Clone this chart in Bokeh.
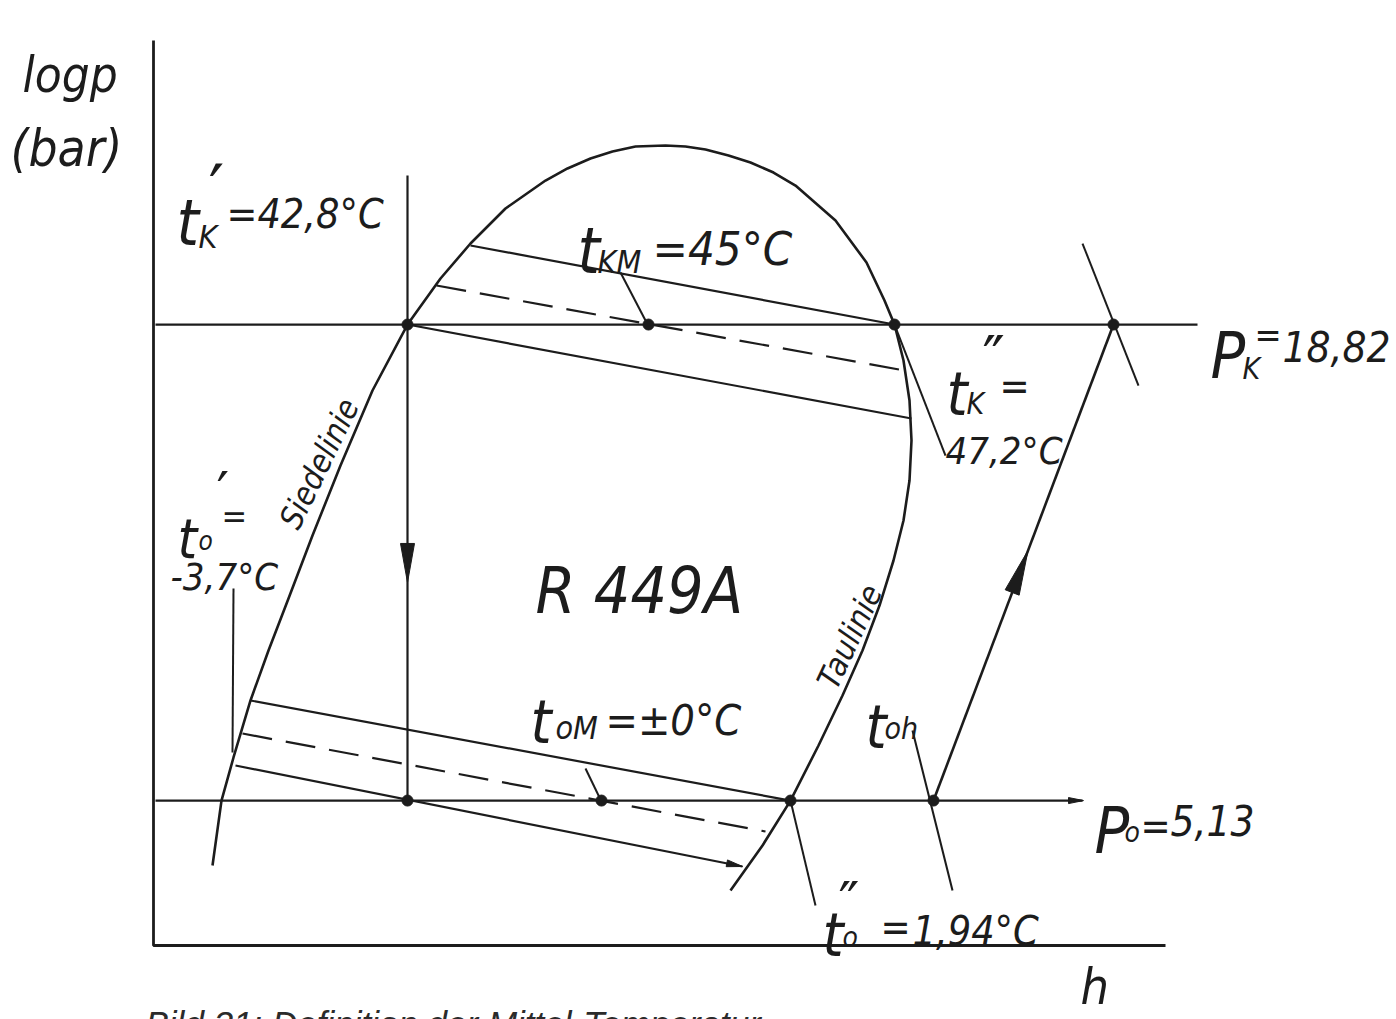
import numpy as np
from bokeh.plotting import figure
from bokeh.models import Range1d, ColumnDataSource
from bokeh.core.properties import value
from bokeh.embed import file_html
from bokeh.resources import INLINE

# ---------------------------------------------------------------
# Cycle pressures (bar)
# ---------------------------------------------------------------
P_K = 18.82   # condensing pressure
P_O = 5.13    # evaporating pressure
LK = float(np.log10(P_K))
LO = float(np.log10(P_O))

# ---------------------------------------------------------------
# Saturation dome of R449A: enthalpy h (kJ/kg) against log10(p/bar)
# bubble line (Siedelinie) from the bottom up, dew line (Taulinie) down
# ---------------------------------------------------------------
dome_h = [213.6, 216.3, 219.9, 225.0, 230.4, 236.4, 243.6, 252.0, 261.6,
          272.1, 282.0, 291.0, 301.5, 313.5, 320.1, 327.0, 333.6, 340.5,
          349.5, 355.5, 361.5, 368.4, 375.0, 381.9, 388.5, 400.5, 409.8,
          415.2, 418.2, 420.9, 422.7, 423.3, 422.7, 420.9, 417.9, 413.7,
          408.6, 402.6, 395.4, 387.0, 378.6, 369.0]
dome_logp = [0.6331, 0.7101, 0.7612, 0.8288, 0.8881, 0.9497, 1.0244, 1.1075,
             1.1964, 1.2746, 1.3292, 1.3707, 1.4122, 1.4454, 1.4597, 1.4715,
             1.4798, 1.4858, 1.4869, 1.4858, 1.4822, 1.4751, 1.4668, 1.4549,
             1.4395, 1.3980, 1.3482, 1.3031, 1.2746, 1.2320, 1.1845, 1.1371,
             1.0897, 1.0422, 0.9948, 0.9414, 0.8881, 0.8347, 0.7754, 0.7101,
             0.6568, 0.6035]

# ---------------------------------------------------------------
# Gliding isotherms inside the two-phase region
# ---------------------------------------------------------------
cond_iso_h = [[291.0, 418.2], [272.1, 423.3]]
cond_iso_logp = [[1.3684, LK], [LK, 1.1632]]
cond_mean_h = [280.8, 421.2]
cond_mean_logp = [1.3209, 1.2201]

evap_iso_h = [[225.0, 387.0], [220.5, 372.6]]
evap_iso_logp = [[0.8288, LO], [0.7517, 0.6319]]
evap_mean_h = [222.6, 379.5]
evap_mean_logp = [0.7896, 0.6734]

# ---------------------------------------------------------------
# Cycle state points (h in kJ/kg)
# ---------------------------------------------------------------
h_bubble_k = 272.1   # t_K'
h_mean_k = 344.4     # t_KM
h_dew_k = 418.2      # t_K''
h_discharge = 483.9
h_mean_o = 330.3     # t_oM
h_dew_o = 387.0      # t_o''
h_suction = 429.9    # t_oh

# diagram frame
axis_h = [195.9, 195.9, 499.5]
axis_logp = [1.6115, 0.5382, 0.5382]
top_throttle_logp = 1.4514
isobar_k_h = [196.5, 509.1]
isobar_o_h = [196.5, 474.6]

INK = "#1c1c1c"
HAND = value("Liberation Sans Narrow, DejaVu Sans Condensed, Roboto, sans-serif")

p = figure(width=1396, height=1019,
           x_range=Range1d(150.0, 568.8), y_range=Range1d(0.45047, 1.6589),
           output_backend="svg", toolbar_location=None,
           x_axis_location=None, y_axis_location=None,
           min_border=0, outline_line_color=None,
           background_fill_color="white", border_fill_color="white")
p.grid.visible = False

# axes of the diagram
p.line(axis_h, axis_logp, line_color=INK, line_width=2.8)

# isobars
p.line(isobar_k_h, [LK, LK], line_color=INK, line_width=2.2)
p.line(isobar_o_h, [LO, LO], line_color=INK, line_width=2.2)
p.patch([470.4, 470.4, 474.9], [0.7137, 0.7065, LO], color=INK)

# saturation dome
p.line(dome_h, dome_logp, line_color=INK, line_width=2.6)

# glide isotherms
p.multi_line(cond_iso_h, cond_iso_logp, line_color=INK, line_width=2.2)
p.multi_line(evap_iso_h, evap_iso_logp, line_color=INK, line_width=2.2)
p.line(cond_mean_h, cond_mean_logp, line_color=INK, line_width=2.2, line_dash="30 14")
p.line(evap_mean_h, evap_mean_logp, line_color=INK, line_width=2.2, line_dash="30 14")
p.patch([367.7, 368.1, 372.6], [0.6317, 0.6397, 0.6319], color=INK)

# throttling and compression
p.line([h_bubble_k, h_bubble_k], [top_throttle_logp, LO], line_color=INK, line_width=2.2)
p.patch([270.0, 274.2, 272.1], [1.0150, 1.0150, 0.9687], color=INK)
p.line([h_suction, h_discharge], [LO, LK], line_color=INK, line_width=2.6)
p.patch([451.4, 455.6, 458.25], [0.9601, 0.9537, 1.0067], color=INK)

# short crossing lines and label leaders
leaders_h = [[474.6, 491.4], [423.6, 435.6], [418.2, 433.5], [387.0, 394.5],
             [219.9, 219.6], [336.0, 343.5], [325.5, 329.7]]
leaders_logp = [[1.3707, 1.2023], [0.7932, 0.6035], [LK, 1.1193], [LO, 0.5857],
                [0.9616, 0.7671], [1.3363, 1.2794], [0.7481, 0.7137]]
p.multi_line(leaders_h, leaders_logp, line_color=INK, line_width=2.0)

# state points
p.scatter([h_bubble_k, h_mean_k, h_dew_k, h_discharge,
           h_bubble_k, h_mean_o, h_dew_o, h_suction],
          [LK] * 4 + [LO] * 4, size=11, color=INK)

# handwritten labels
labels = dict(
    x=[156.6, 153.0,
       202.8, 209.4, 217.8,
       323.1, 329.1, 345.6,
       513.0, 522.6, 526.2, 534.6,
       433.8, 439.8, 449.7, 433.5,
       203.1, 209.4, 216.3, 201.0,
       310.5,
       309.0, 316.5, 331.5,
       409.5, 415.2,
       478.2, 487.2, 492.0, 501.0,
       396.6, 402.6, 414.0, 423.6],
    y=[1.5700, 1.4834,
       1.3956, 1.3790, 1.4063,
       1.3624, 1.3482, 1.3648,
       1.2379, 1.2225, 1.2628, 1.2486,
       1.1928, 1.1810, 1.2023, 1.1252,
       1.0209, 1.0185, 1.0470, 0.9758,
       0.9592,
       0.8027, 0.7956, 0.8051,
       0.7968, 0.7956,
       0.6746, 0.6722, 0.6805, 0.6865,
       0.5501, 0.5477, 0.5596, 0.5560],
    text=["logp", "(bar)",
          "t", "K", "=42,8°C",
          "t", "KM", "=45°C",
          "P", "K", "=", "18,82",
          "t", "K", "=", "47,2°C",
          "t", "o", "=", "-3,7°C",
          "R 449A",
          "t", "oM", "=±0°C",
          "t", "oh",
          "P", "o", "=", "5,13",
          "t", "o", "=", "1,94°C"],
    size=["49px", "51px",
          "64px", "32px", "41px",
          "64px", "32px", "47px",
          "64px", "30px", "36px", "42px",
          "60px", "30px", "40px", "38px",
          "56px", "26px", "34px", "38px",
          "64px",
          "60px", "32px", "43px",
          "60px", "30px",
          "64px", "28px", "40px", "42px",
          "60px", "28px", "40px", "41px"],
)
p.text(x="x", y="y", text="text", source=ColumnDataSource(labels),
       text_font=HAND, text_font_style="italic", text_font_size="size",
       text_color=INK, text_align="left", text_baseline="alphabetic")

# primes of the saturation temperatures
primes = dict(
    x=[212.4, 444.6, 214.8, 401.4],
    y=[1.4337, 1.2344, 1.0767, 0.5904],
    text=["\u2032", "\u2033", "\u2032", "\u2033"],
    size=["70px", "60px", "56px", "56px"],
)
p.text(x="x", y="y", text="text", source=ColumnDataSource(primes),
       text_font=value("DejaVu Sans"), text_font_style="normal",
       text_font_size="size", text_color=INK, text_align="left",
       text_baseline="alphabetic")

# names of the saturation lines, written along them
p.text(x=[236.4, 397.8], y=[1.0351, 0.8454], text=["Siedelinie", "Taulinie"],
       angle=[1.117, 1.134], text_font=HAND, text_font_style="italic",
       text_font_size="32px", text_color=INK, text_align="left",
       text_baseline="alphabetic")

# enthalpy axis name
p.text(x=[474.0], y=[0.5234], text=["h"], text_font=HAND, text_font_style="italic",
       text_font_size="50px", text_color=INK, text_align="left", text_baseline="top")

# caption
p.text(x=[193.5], y=[0.4691], text=["Bild 31: Definition der Mittel-Temperatur"],
       text_font=value("Liberation Sans"), text_font_style="italic",
       text_font_size="35px", text_color="#2b2b2b", text_align="left",
       text_baseline="top")

open("out.html", "w").write(file_html(p, INLINE))
